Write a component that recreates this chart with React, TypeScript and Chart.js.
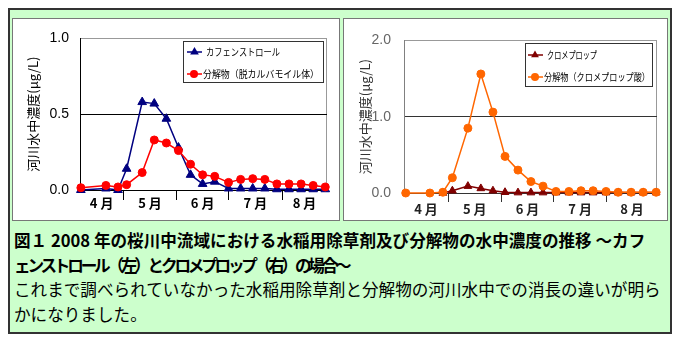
import React, { useEffect, useRef } from 'react';
import { Chart, registerables } from 'chart.js';

Chart.register(...registerables);

// ---------------- data ----------------
const monthLabels = ['4 月', '5 月', '6 月', '7 月', '8 月'];
// day numbers counted from 1 April: 1 May, 1 Jun, 1 Jul, 1 Aug
const monthStarts = [30, 61, 91, 122];

const leftDays = [5.5, 20, 27, 32, 41, 48, 55, 62, 69, 76, 83, 91, 98, 105, 112, 119, 126, 133, 140, 147];
const cafenstrole = [0.0, 0.01, 0.0, 0.14, 0.58, 0.57, 0.47, 0.28, 0.1, 0.04, 0.055, 0.01, 0.01, 0.01, 0.01, 0.005, 0.005, 0.005, 0.005, 0.005];
const cafenstroleMetabolite = [0.015, 0.03, 0.02, 0.035, 0.115, 0.33, 0.31, 0.26, 0.17, 0.1, 0.09, 0.05, 0.07, 0.075, 0.07, 0.04, 0.04, 0.04, 0.03, 0.02];

const rightDays = [5.5, 19.5, 27, 32.5, 41.5, 49, 56, 63, 70.5, 78, 85, 92.5, 100, 107, 114, 121.5, 128.5, 136, 143, 150.5];
const clomeprop = [null, null, 0.0, 0.03, 0.09, 0.06, 0.03, 0.01, 0.005, 0.005, 0.005, 0.005, 0.005, 0.005, 0.005, 0.005, 0.005, 0.005, 0.005, 0.005];
const clomepropAcid = [0.0, 0.0, 0.01, 0.2, 0.85, 1.56, 1.06, 0.48, 0.3, 0.15, 0.09, 0.02, 0.02, 0.03, 0.03, 0.02, 0.01, 0.01, 0.01, 0.01];

const leftSeriesLabels = ['カフェンストロール', '分解物（脱カルバモイル体）'];
const rightSeriesLabels = ['クロメプロップ', '分解物（クロメプロップ酸）'];
const leftYTicks = [0, 0.5, 1.0];
const rightYTicks = [0, 1.0, 2.0];
const yTitle = '河川水中濃度(μg/L)';

const captionLines = [
  '図１ 2008 年の桜川中流域における水稲用除草剤及び分解物の水中濃度の推移 ～カフ',
  'ェンストロール（左）とクロメプロップ（右）の場合～',
  'これまで調べられていなかった水稲用除草剤と分解物の河川水中での消長の違いが明ら',
  'かになりました。',
];

// ---------------- plugins ----------------
const framePlugin = {
  id: 'frame',
  beforeDraw(chart: any, _a: any, opts: any) {
    const { ctx, chartArea } = chart;
    const { left, top, right, bottom } = chartArea;
    ctx.save();
    ctx.strokeStyle = opts.color || '#999';
    ctx.lineWidth = 1;
    ctx.strokeRect(Math.round(left) + 0.5, Math.round(top) + 0.5, Math.round(right - left) - 1, Math.round(bottom - top));
    ctx.restore();
  },
};

function drawMarker(ctx: CanvasRenderingContext2D, shape: string, x: number, y: number, r: number) {
  ctx.beginPath();
  if (shape === 'triangle') {
    let rad = 0;
    ctx.moveTo(x + Math.sin(rad) * r, y - Math.cos(rad) * r);
    rad += (2 * Math.PI) / 3;
    ctx.lineTo(x + Math.sin(rad) * r, y - Math.cos(rad) * r);
    rad += (2 * Math.PI) / 3;
    ctx.lineTo(x + Math.sin(rad) * r, y - Math.cos(rad) * r);
    ctx.closePath();
  } else {
    ctx.arc(x, y, r, 0, Math.PI * 2);
  }
  ctx.fill();
}

const boxLegendPlugin = {
  id: 'boxLegend',
  afterDraw(chart: any, _a: any, opts: any) {
    if (!opts || !opts.box) return;
    const { ctx, chartArea } = chart;
    const [ox, oy, w, h] = opts.box;
    const bx = Math.round(chartArea.left + ox);
    const by = Math.round(chartArea.top + oy);
    ctx.save();
    ctx.fillStyle = '#fff';
    ctx.fillRect(bx, by, w, h);
    ctx.strokeStyle = opts.borderColor || '#333';
    ctx.lineWidth = 1;
    ctx.strokeRect(bx + 0.5, by + 0.5, w, h);
    chart.data.datasets.forEach((ds: any, i: number) => {
      const r = opts.rows[i];
      const y = by + r.dy;
      ctx.strokeStyle = ds.borderColor;
      ctx.lineWidth = ds.borderWidth;
      ctx.beginPath();
      ctx.moveTo(bx + r.x0, y);
      ctx.lineTo(bx + r.x1, y);
      ctx.stroke();
      ctx.fillStyle = ds.pointBackgroundColor;
      drawMarker(ctx, ds.pointStyle, bx + r.mx, y, ds.pointRadius);
      ctx.fillStyle = '#000';
      ctx.font = opts.font;
      ctx.textBaseline = 'middle';
      ctx.textAlign = 'left';
      ctx.fillText(ds.label, bx + r.tx, y + 0.5, r.tw);
    });
    ctx.restore();
  },
};

// ---------------- chart builder ----------------
function buildConfig(s: any) {
  const edges = [s.xMin, ...monthStarts, s.xMax];
  const centers = monthLabels.map((_, i) => (edges[i] + edges[i + 1]) / 2);
  const xTicks = [...monthStarts, ...centers].sort((a, b) => a - b).map((v) => ({ value: v }));
  const isStart = (v: number) => monthStarts.some((m) => Math.abs(m - v) < 1e-6);
  return {
    type: 'line',
    data: {
      datasets: s.series.map((vals: (number | null)[], i: number) => ({
        label: s.labels[i],
        data: s.days.map((d: number, j: number) => ({ x: d, y: vals[j] })),
        borderColor: s.colors[i],
        backgroundColor: s.colors[i],
        pointBackgroundColor: s.colors[i],
        pointBorderColor: s.colors[i],
        pointBorderWidth: 1,
        pointStyle: s.shapes[i],
        pointRadius: s.radii[i],
        borderWidth: 1.5,
        tension: 0,
        clip: false,
        order: s.series.length - i,
      })),
    },
    options: {
      animation: false,
      responsive: false,
      events: [],
      layout: { padding: s.padding },
      plugins: {
        legend: { display: false },
        tooltip: { enabled: false },
        frame: { color: s.frameColor },
        boxLegend: s.legend,
      },
      scales: {
        x: {
          type: 'linear',
          min: s.xMin,
          max: s.xMax,
          afterFit: (sc: any) => { sc.height = s.xHeight; },
          afterBuildTicks: (sc: any) => { sc.ticks = xTicks.map((t) => ({ ...t })); },
          ticks: {
            autoSkip: false,
            maxRotation: 0,
            minRotation: 0,
            padding: s.xPad,
            color: s.xLabelColor,
            font: { family: '"Noto Sans CJK JP", sans-serif', size: 13, weight: 'bold' },
            callback: (v: number) => {
              const i = centers.findIndex((c) => Math.abs(c - v) < 1e-6);
              return i >= 0 ? monthLabels[i] : '';
            },
          },
          grid: {
            display: true,
            drawOnChartArea: false,
            drawTicks: true,
            tickLength: s.tickLen,
            tickWidth: 1,
            tickColor: (ctx: any) => (ctx.tick && isStart(ctx.tick.value) ? s.axisColor : 'rgba(0,0,0,0)'),
            color: 'rgba(0,0,0,0)',
          },
          border: { display: true, color: s.axisColor, width: 1 },
        },
        y: {
          type: 'linear',
          min: 0,
          max: s.yMax,
          afterFit: (sc: any) => { sc.width = s.yWidth; },
          afterBuildTicks: (sc: any) => { sc.ticks = s.yTicks.map((v: number) => ({ value: v })); },
          ticks: {
            padding: s.yPad,
            color: s.yLabelColor,
            font: { family: '"Liberation Sans", Arial, sans-serif', size: 14 },
            callback: (v: number) => Number(v).toFixed(1),
          },
          grid: {
            drawTicks: false,
            lineWidth: 1,
            color: (ctx: any) => (ctx.tick && Math.abs(ctx.tick.value - s.gridValue) < 1e-6 ? s.gridColor : 'rgba(0,0,0,0)'),
          },
          border: { display: true, color: s.yAxisColor, width: 1 },
          title: {
            display: true,
            text: yTitle,
            color: s.titleColor,
            font: { family: '"Noto Sans CJK JP", sans-serif', size: 13 },
            padding: { top: s.titlePad, bottom: 0 },
          },
        },
      },
    },
    plugins: [framePlugin, boxLegendPlugin],
  };
}

const leftSpec = {
  days: leftDays,
  series: [cafenstrole, cafenstroleMetabolite],
  labels: leftSeriesLabels,
  colors: ['#000080', '#ff0000'],
  shapes: ['triangle', 'circle'],
  radii: [5, 4],
  xMin: 5,
  xMax: 148,
  yMax: 1.0,
  yTicks: leftYTicks,
  gridValue: 0.5,
  gridColor: '#000',
  padding: { left: 0, right: 12, top: 10, bottom: 0 },
  yWidth: 67,
  xHeight: 30,
  yPad: 11,
  xPad: -5,
  tickLen: 10,
  titlePad: 12,
  titleColor: '#000',
  yLabelColor: '#000',
  xLabelColor: '#000',
  axisColor: '#000',
  yAxisColor: '#000',
  frameColor: '#999',
  legend: {
    box: [103, 3, 140, 41],
    borderColor: '#333',
    font: '10px "Noto Sans CJK JP"',
    rows: [
      { dy: 11, x0: 4, x1: 19, mx: 11.5, tx: 23, tw: 74 },
      { dy: 33, x0: 4, x1: 19, mx: 11, tx: 20, tw: 116 },
    ],
  },
};

const rightSpec = {
  days: rightDays,
  series: [clomeprop, clomepropAcid],
  labels: rightSeriesLabels,
  colors: ['#800000', '#ff6600'],
  shapes: ['triangle', 'circle'],
  radii: [4.5, 4],
  xMin: 4.5,
  xMax: 151,
  yMax: 2.0,
  yTicks: rightYTicks,
  gridValue: 1.0,
  gridColor: '#333',
  padding: { left: 0, right: 10, top: 10, bottom: 0 },
  yWidth: 60,
  xHeight: 27,
  yPad: 13,
  xPad: -1,
  tickLen: 9,
  titlePad: 13,
  titleColor: '#333',
  yLabelColor: '#666',
  xLabelColor: '#222',
  axisColor: '#333',
  yAxisColor: '#808080',
  frameColor: '#999',
  legend: {
    box: [121, 3, 127, 43],
    borderColor: '#333',
    font: '10px "Noto Sans CJK JP"',
    rows: [
      { dy: 12, x0: 3, x1: 18, mx: 10, tx: 22, tw: 50 },
      { dy: 34, x0: 3, x1: 18, mx: 10, tx: 19, tw: 106 },
    ],
  },
};

function ChartCanvas({ spec, width, height }: { spec: any; width: number; height: number }) {
  const ref = useRef<HTMLCanvasElement | null>(null);
  useEffect(() => {
    if (!ref.current) return;
    const chart = new Chart(ref.current, buildConfig(spec) as any);
    return () => chart.destroy();
  }, [spec]);
  return <canvas ref={ref} width={width} height={height} style={{ display: 'block', width, height }} />;
}

export default function App() {
  const jp = '"Noto Sans CJK JP", sans-serif';
  return (
    <div
      style={{
        position: 'relative',
        width: 664,
        height: 326,
        boxSizing: 'border-box',
        border: '2px solid #333',
        background: '#ccffcc',
      }}
    >
      <div
        style={{
          position: 'absolute',
          left: 2,
          top: 8,
          width: 328,
          height: 203,
          boxSizing: 'border-box',
          border: '1px solid #777',
          background: '#fff',
        }}
      >
        <ChartCanvas spec={leftSpec} width={326} height={201} />
      </div>
      <div
        style={{
          position: 'absolute',
          left: 333,
          top: 8,
          width: 325,
          height: 203,
          boxSizing: 'border-box',
          border: '1px solid #777',
          background: '#fff',
        }}
      >
        <ChartCanvas spec={rightSpec} width={323} height={201} />
      </div>
      <div
        style={{
          position: 'absolute',
          left: 4,
          top: 218,
          fontFamily: jp,
          fontSize: 16.6,
          lineHeight: '24.5px',
          color: '#000',
          whiteSpace: 'nowrap',
        }}
      >
        <div style={{ fontWeight: 'bold' }}>{captionLines[0]}</div>
        <div style={{ fontWeight: 'bold', letterSpacing: '-3.2px' }}>{captionLines[1]}</div>
        <div>{captionLines[2]}</div>
        <div>{captionLines[3]}</div>
      </div>
    </div>
  );
}
